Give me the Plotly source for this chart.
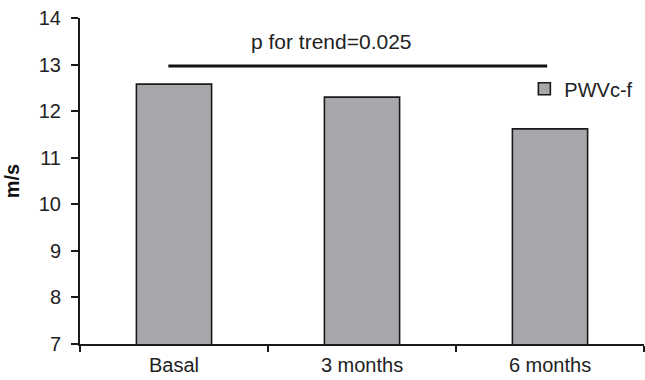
import plotly.graph_objects as go

categories = ["Basal", "3 months", "6 months"]
pwv_values = [12.58, 12.30, 11.62]
series_name = "PWVc-f"
y_ticks = [7, 8, 9, 10, 11, 12, 13, 14]
trend_label = "p for trend=0.025"
trend_level = 12.97

FONT = "Liberation Sans, Arial, Helvetica, sans-serif"

fig = go.Figure()
fig.add_trace(go.Bar(
    x=categories, y=pwv_values, name=series_name,
    marker=dict(color="#a7a8ac", line=dict(color="#1a1a1a", width=1.6)),
    width=0.4, showlegend=True,
))

fig.add_shape(type="line", xref="x", yref="y",
              x0=-0.03, x1=1.985, y0=trend_level, y1=trend_level,
              line=dict(color="#111111", width=3))
fig.add_annotation(x=0.84, y=13.5, xref="x", yref="y", text=trend_label,
                   showarrow=False, font=dict(family=FONT, size=21, color="#222222"))

fig.update_layout(
    width=645, height=380,
    margin=dict(l=80, r=1, t=18, b=36),
    paper_bgcolor="white", plot_bgcolor="white",
    font=dict(family=FONT, size=20, color="#222222"),
    showlegend=True,
    legend=dict(x=0.99, y=0.783, xanchor="right", yanchor="middle",
                bgcolor="rgba(0,0,0,0)", itemwidth=30,
                font=dict(family=FONT, size=20, color="#222222")),
)
fig.update_xaxes(
    type="category", showline=True, linecolor="#1a1a1a", linewidth=1.5,
    ticks="outside", tickson="boundaries", ticklen=6, tickcolor="#1a1a1a",
    tickwidth=1.5, showgrid=False, range=[-0.5, 2.5], ticklabelstandoff=2,
    tickfont=dict(family=FONT, size=20, color="#222222"),
)
fig.update_yaxes(
    range=[7, 14], tickvals=y_ticks, showline=True, linecolor="#1a1a1a",
    linewidth=2, ticks="outside", ticklen=7, tickcolor="#1a1a1a", tickwidth=1.5,
    ticklabelstandoff=6, automargin=True,
    showgrid=False, zeroline=False,
    title=dict(text="<b>m/s</b>", font=dict(family=FONT, size=20, color="#111111"), standoff=14),
    tickfont=dict(family=FONT, size=20, color="#222222"),
)

fig.write_html("out.html", config={"displayModeBar": False},
               post_script="document.body.style.margin='0';document.body.style.overflow='hidden';")
